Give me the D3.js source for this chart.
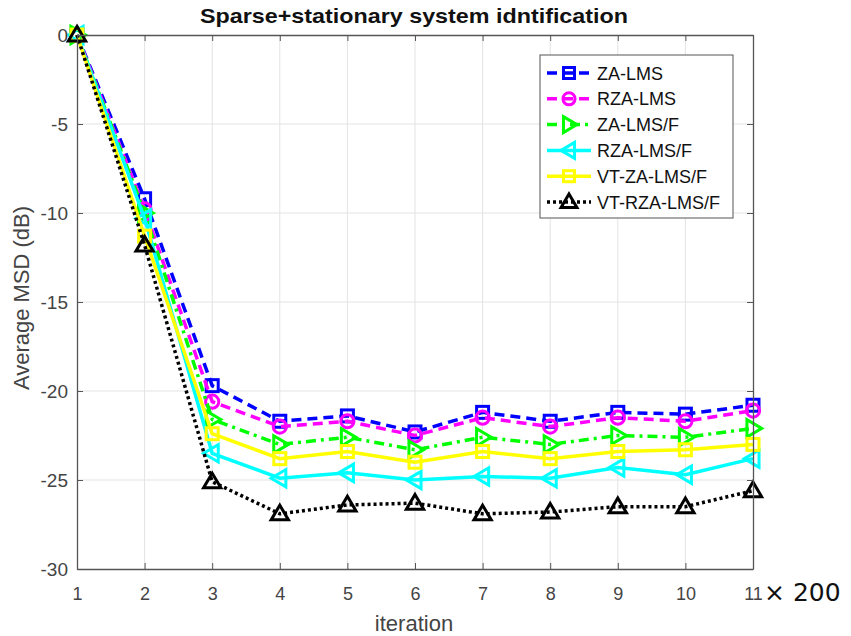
<!DOCTYPE html>
<html>
<head>
<meta charset="utf-8">
<script src="https://cdn.jsdelivr.net/npm/d3@7"></script>
<style>
  body { margin: 0; background: #fff; }
  svg { display: block; font-family: "Liberation Sans", Arial, sans-serif; }
</style>
</head>
<body>
<svg id="chart" width="851" height="636"></svg>
<script>
const iterations = [1, 2, 3, 4, 5, 6, 7, 8, 9, 10, 11];
const yTicks = [0, -5, -10, -15, -20, -25, -30];

const zaLms      = [0, -9.2, -19.7, -21.7, -21.4, -22.3, -21.2, -21.7, -21.2, -21.3, -20.8];
const rzaLms     = [0, -9.8, -20.6, -22.0, -21.7, -22.5, -21.5, -22.0, -21.5, -21.7, -21.1];
const zaLmsF     = [0, -10.0, -21.6, -23.0, -22.6, -23.3, -22.6, -23.0, -22.5, -22.6, -22.1];
const rzaLmsF    = [0, -10.3, -23.5, -24.9, -24.6, -25.0, -24.8, -24.9, -24.3, -24.7, -23.8];
const vtZaLmsF   = [0, -11.3, -22.4, -23.8, -23.4, -24.0, -23.4, -23.8, -23.4, -23.3, -23.0];
const vtRzaLmsF  = [0, -11.8, -25.1, -26.9, -26.4, -26.3, -26.9, -26.8, -26.5, -26.5, -25.6];

const seriesNames = ['ZA-LMS', 'RZA-LMS', 'ZA-LMS/F', 'RZA-LMS/F', 'VT-ZA-LMS/F', 'VT-RZA-LMS/F'];
const seriesValues = [zaLms, rzaLms, zaLmsF, rzaLmsF, vtZaLmsF, vtRzaLmsF];

// style for each series, same order as names
const styles = [
  { color: '#0000ff', dash: '10,6', marker: 'square' },
  { color: '#ff00ff', dash: '10,6', marker: 'circle' },
  { color: '#00ff00', dash: '10,5,3,5', marker: 'triRight' },
  { color: '#00ffff', dash: null, marker: 'triLeft' },
  { color: '#ffff00', dash: null, marker: 'square' },
  { color: '#000000', dash: '3,3', marker: 'triUp' }
];

const margin = { left: 77, right: 98, top: 35, bottom: 67 };
const W = 851, H = 636;
const svg = d3.select('#chart');

const x = d3.scaleLinear().domain([1, 11]).range([margin.left, W - margin.right]);
const y = d3.scaleLinear().domain([-30, 0]).range([H - margin.bottom, margin.top]);

const plot = svg.append('g');

// grid
plot.append('g').selectAll('line').data(iterations.slice(1, -1)).join('line')
  .attr('x1', d => x(d)).attr('x2', d => x(d))
  .attr('y1', y(0)).attr('y2', y(-30))
  .attr('stroke', '#e3e3e3').attr('stroke-width', 1);
plot.append('g').selectAll('line').data(yTicks.slice(1, -1)).join('line')
  .attr('y1', d => y(d)).attr('y2', d => y(d))
  .attr('x1', x(1)).attr('x2', x(11))
  .attr('stroke', '#e3e3e3').attr('stroke-width', 1);

// axes (matlab box style, ticks inside)
const axisColor = '#555';
const xAxis = d3.axisBottom(x).tickValues(iterations).tickSize(-6).tickPadding(18).tickSizeOuter(0);
const yAxis = d3.axisLeft(y).tickValues(yTicks).tickFormat(d => String(d))
  .tickSize(-6).tickPadding(9).tickSizeOuter(0);

const gx = svg.append('g').attr('transform', `translate(0,${y(-30)})`).call(xAxis);
gx.selectAll('text').attr('font-size', 18).attr('fill', '#444');
const gy = svg.append('g').attr('transform', `translate(${x(1)},0)`).call(yAxis);
gy.selectAll('text').attr('font-size', 19).attr('fill', '#444');

const gxTop = svg.append('g').attr('transform', `translate(0,${y(0)})`)
  .call(d3.axisTop(x).tickValues(iterations).tickSize(-6).tickFormat('').tickSizeOuter(0));
const gyRight = svg.append('g').attr('transform', `translate(${x(11)},0)`)
  .call(d3.axisRight(y).tickValues(yTicks).tickSize(-6).tickFormat('').tickSizeOuter(0));
[gx, gy, gxTop, gyRight].forEach(g => {
  g.select('.domain').attr('stroke', axisColor).attr('stroke-width', 1.3);
  g.selectAll('.tick line').attr('stroke', axisColor);
});

// markers
function drawMarker(g, type, color, size) {
  const s = size;
  if (type === 'square') {
    g.append('rect').attr('x', -s * 0.5).attr('y', -s * 0.5).attr('width', s).attr('height', s)
      .attr('fill', 'none').attr('stroke', color).attr('stroke-width', 3);
  } else if (type === 'circle') {
    g.append('circle').attr('r', s * 0.55).attr('fill', 'none').attr('stroke', color).attr('stroke-width', 3);
  } else {
    const r = s * 0.72;
    let pts;
    if (type === 'triUp') pts = [[0, -r], [r, r * 0.7], [-r, r * 0.7]];
    if (type === 'triRight') pts = [[r, 0], [-r * 0.7, -r], [-r * 0.7, r]];
    if (type === 'triLeft') pts = [[-r, 0], [r * 0.7, -r], [r * 0.7, r]];
    g.append('path').attr('d', 'M' + pts.map(p => p.join(',')).join('L') + 'Z')
      .attr('fill', 'none').attr('stroke', color).attr('stroke-width', 3).attr('stroke-linejoin', 'miter');
  }
}

const line = d3.line().x((d, i) => x(iterations[i])).y(d => y(d));

seriesValues.forEach((vals, k) => {
  const st = styles[k];
  const g = plot.append('g');
  g.append('path').datum(vals).attr('d', line)
    .attr('fill', 'none').attr('stroke', st.color).attr('stroke-width', 3.5)
    .attr('stroke-dasharray', st.dash);
  vals.forEach((v, i) => {
    const m = g.append('g').attr('transform', `translate(${x(iterations[i])},${y(v)})`);
    drawMarker(m, st.marker, st.color, 12);
  });
});

// title and labels
svg.append('text').attr('x', 414).attr('y', 23).attr('text-anchor', 'middle')
  .attr('font-size', 21).attr('font-weight', 'bold').attr('fill', '#111')
  .attr('textLength', 428).attr('lengthAdjust', 'spacingAndGlyphs')
  .text('Sparse+stationary system idntification');

svg.append('text').attr('x', 414).attr('y', 631).attr('text-anchor', 'middle')
  .attr('font-size', 22).attr('fill', '#444').text('iteration');

svg.append('text').attr('transform', `translate(29,${(y(0) + y(-30)) / 2 - 4}) rotate(-90)`)
  .attr('text-anchor', 'middle').attr('font-size', 22).attr('fill', '#444')
  .text('Average MSD (dB)');

svg.append('text').attr('x', 764).attr('y', 601)
  .attr('font-family', '"DejaVu Sans", "Liberation Sans", sans-serif')
  .attr('font-size', 25).attr('fill', '#111').text('× 200');

// legend
const lg = svg.append('g').attr('transform', 'translate(540,55)');
lg.append('rect').attr('width', 193).attr('height', 163)
  .attr('fill', '#fff').attr('stroke', '#555').attr('stroke-width', 1);
seriesNames.forEach((name, k) => {
  const st = styles[k];
  const yy = 18 + k * 25.8;
  lg.append('line').attr('x1', 7).attr('x2', 51).attr('y1', yy).attr('y2', yy)
    .attr('stroke', st.color).attr('stroke-width', 3.5).attr('stroke-dasharray', st.dash);
  drawMarker(lg.append('g').attr('transform', `translate(29,${yy})`), st.marker, st.color, 11);
  lg.append('text').attr('x', 57).attr('y', yy + 6.5).attr('font-size', 18).attr('fill', '#111').text(name);
});
</script>
</body>
</html>
